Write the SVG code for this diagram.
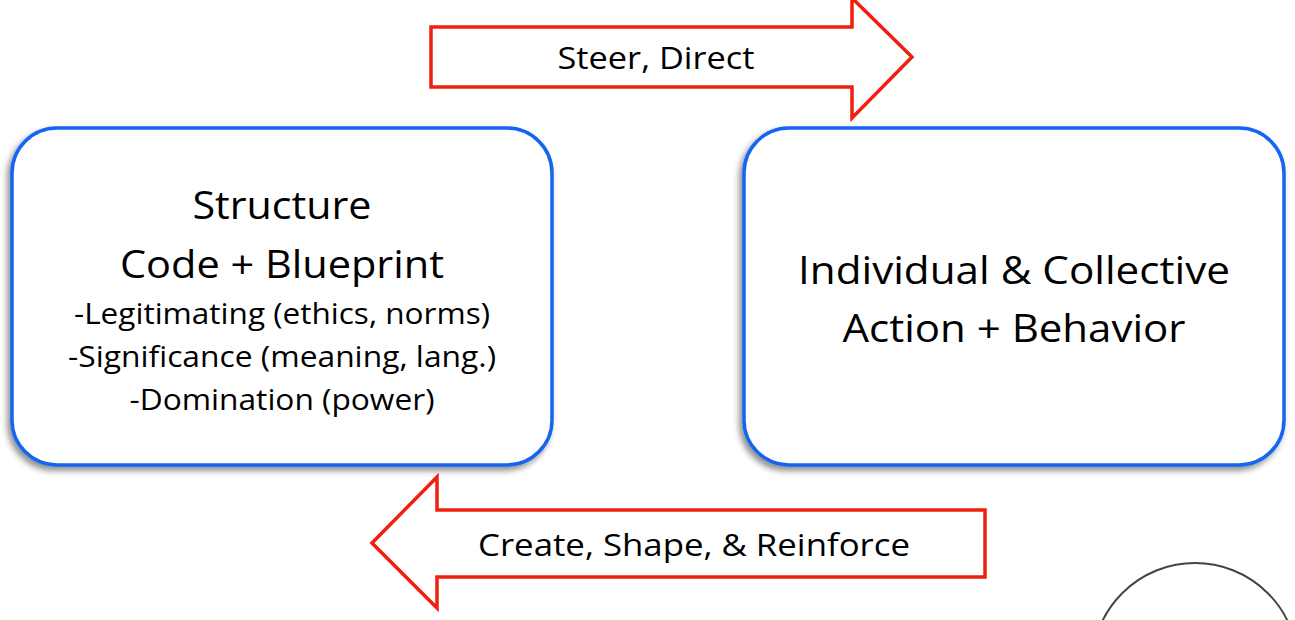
<svg xmlns="http://www.w3.org/2000/svg" width="1295" height="620" viewBox="0 0 1295 620">
<style>
.box{fill:#fff;stroke:#1565f0;stroke-width:3.5}
.arrow{fill:#fff;stroke:#f0200f;stroke-width:3.5;stroke-linejoin:miter}
text{font-family:"Open Sans","Liberation Sans",sans-serif;fill:#000;text-anchor:middle}
.t{font-size:38px}
.s{font-size:28.5px}
.a{font-size:31.5px}
</style>
<defs>
<filter id="sh" x="-10%" y="-10%" width="120%" height="130%">
<feGaussianBlur in="SourceAlpha" stdDeviation="3"/>
<feOffset dx="-3" dy="4"/>
<feComponentTransfer><feFuncA type="linear" slope="0.45"/></feComponentTransfer>
<feMerge><feMergeNode/><feMergeNode in="SourceGraphic"/></feMerge>
</filter>
</defs>
<rect width="1295" height="620" fill="#fff"/>
<g id="connectors">
<g id="steer">
<path class="arrow" d="M431,27 L852,27 L852,-2 L912,57 L852,118 L852,87 L431,87 Z"/>
<text class="a" x="656" y="69" textLength="197" lengthAdjust="spacingAndGlyphs">Steer, Direct</text>
</g>
<g id="create">
<path class="arrow" d="M985,510 L437,510 L437,477 L372,543 L437,608 L437,577 L985,577 Z"/>
<text class="a" x="694" y="556" textLength="432" lengthAdjust="spacingAndGlyphs">Create, Shape, &amp; Reinforce</text>
</g>
</g>
<g id="structure">
<rect class="box" x="12" y="128" width="540" height="337" rx="45" filter="url(#sh)"/>
<text class="t" x="282" y="219" textLength="179" lengthAdjust="spacingAndGlyphs">Structure</text>
<text class="t" x="282" y="278" textLength="324" lengthAdjust="spacingAndGlyphs">Code + Blueprint</text>
<text class="s" x="282" y="324" textLength="416" lengthAdjust="spacingAndGlyphs">-Legitimating (ethics, norms)</text>
<text class="s" x="282" y="367" textLength="428" lengthAdjust="spacingAndGlyphs">-Significance (meaning, lang.)</text>
<text class="s" x="282" y="410" textLength="305" lengthAdjust="spacingAndGlyphs">-Domination (power)</text>
</g>
<g id="action">
<rect class="box" x="744" y="128" width="540" height="337" rx="45" filter="url(#sh)"/>
<text class="t" x="1014" y="284" textLength="432" lengthAdjust="spacingAndGlyphs">Individual &amp; Collective</text>
<text class="t" x="1014" y="342" textLength="343" lengthAdjust="spacingAndGlyphs">Action + Behavior</text>
</g>
<g id="circle">
<circle cx="1195" cy="666" r="103" fill="none" stroke="#444" stroke-width="2"/>
</g>
</svg>
